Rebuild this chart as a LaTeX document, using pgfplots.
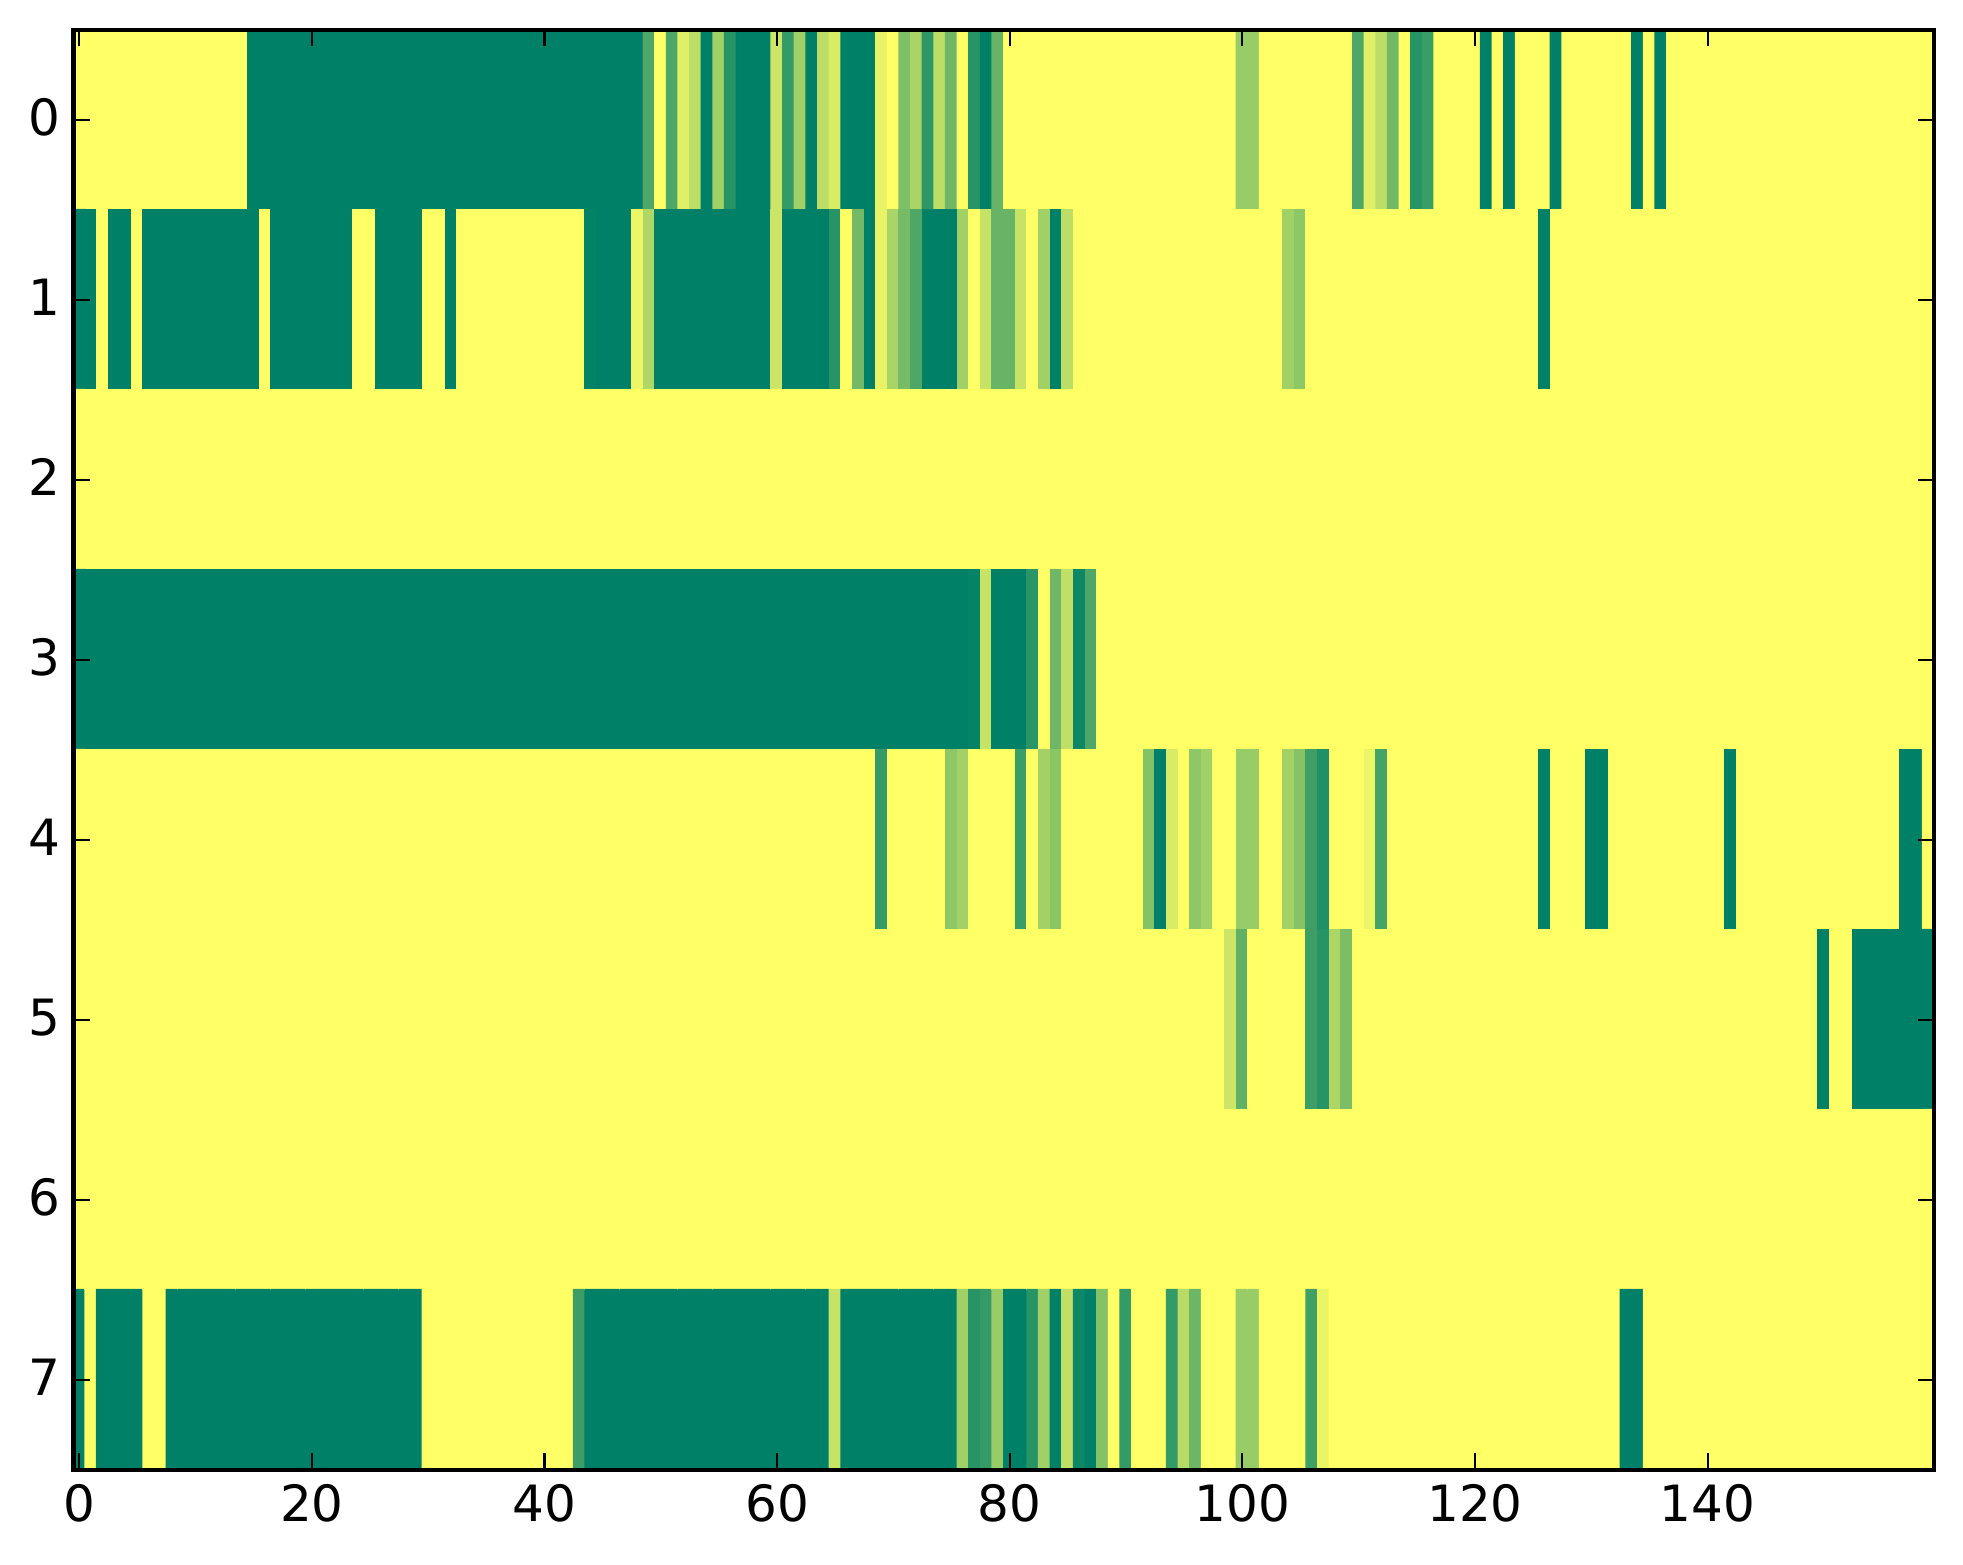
\documentclass[border=0pt]{standalone}
\usepackage{fontspec}
\setmainfont{DejaVu Sans}
\usepackage{pgfplots}
\pgfplotsset{compat=1.18}
\begin{document}
\begin{tikzpicture}[x=1pt,y=1pt]
\path[use as bounding box] (0,0) rectangle (471.12pt,375.36pt);
\begin{axis}[
  at={(17.64pt,22.65pt)}, anchor=south west,
  scale only axis, width=446.6pt, height=345.6pt,
  y dir=reverse,
  xmin=-0.5, xmax=159.5, ymin=-0.5, ymax=7.5,
  xtick={0,20,40,60,80,100,120,140},
  ytick={0,1,2,3,4,5,6,7},
  xticklabel pos=lower,
  tick align=inside,
  major tick length=4pt,
  tick style={black, line width=0.5pt},
  axis line style={black, line width=1pt},
  axis on top=true,
  enlargelimits=false,
  point meta min=0, point meta max=100,
  colormap={summerr}{rgb255=(255,255,102) rgb255=(0,128,102)},
  /pgf/number format/assume math mode=true,
  tick label style={font=\fontsize{12}{14}\selectfont},
  yticklabel style={xshift=0.3pt, yshift=0.6pt},
  scaled ticks=false,
]
\addplot[matrix plot*, point meta=explicit, mesh/cols=160]
 table[header=false, row sep=crcr, x expr={mod(\coordindex,160)}, y expr={floor(\coordindex/160)}, meta index=0]{
0\\0\\0\\0\\0\\0\\0\\0\\0\\0\\
0\\0\\0\\0\\0\\100\\100\\100\\100\\100\\
100\\100\\100\\100\\100\\100\\100\\100\\100\\100\\
100\\100\\100\\100\\100\\100\\100\\100\\100\\100\\
100\\100\\100\\100\\100\\100\\100\\100\\100\\69\\
0\\69\\12\\26\\100\\37\\84\\100\\100\\100\\
20\\79\\37\\100\\26\\15\\100\\100\\100\\9\\
0\\50\\33\\81\\26\\56\\0\\84\\100\\59\\
0\\0\\0\\0\\0\\0\\0\\0\\0\\0\\
0\\0\\0\\0\\0\\0\\0\\0\\0\\0\\
40\\40\\0\\0\\0\\0\\0\\0\\0\\0\\
69\\12\\26\\55\\0\\84\\77\\0\\0\\0\\
0\\100\\0\\100\\0\\0\\0\\100\\0\\0\\
0\\0\\0\\0\\100\\0\\100\\0\\0\\0\\
0\\0\\0\\0\\0\\0\\0\\0\\0\\0\\
0\\0\\0\\0\\0\\0\\0\\0\\0\\0\\
100\\100\\0\\100\\100\\0\\100\\100\\100\\100\\
100\\100\\100\\100\\100\\100\\0\\100\\100\\100\\
100\\100\\100\\100\\0\\0\\100\\100\\100\\100\\
0\\0\\100\\0\\0\\0\\0\\0\\0\\0\\
0\\0\\0\\0\\98\\100\\100\\100\\7\\31\\
100\\100\\100\\100\\100\\100\\100\\100\\100\\100\\
20\\100\\100\\100\\100\\84\\0\\54\\100\\9\\
33\\53\\69\\100\\100\\100\\37\\0\\22\\59\\
59\\22\\0\\37\\100\\26\\0\\0\\0\\0\\
0\\0\\0\\0\\0\\0\\0\\0\\0\\0\\
0\\0\\0\\0\\37\\44\\0\\0\\0\\0\\
0\\0\\0\\0\\0\\0\\0\\0\\0\\0\\
0\\0\\0\\0\\0\\0\\100\\0\\0\\0\\
0\\0\\0\\0\\0\\0\\0\\0\\0\\0\\
0\\0\\0\\0\\0\\0\\0\\0\\0\\0\\
0\\0\\0\\0\\0\\0\\0\\0\\0\\0\\
0\\0\\0\\0\\0\\0\\0\\0\\0\\0\\
0\\0\\0\\0\\0\\0\\0\\0\\0\\0\\
0\\0\\0\\0\\0\\0\\0\\0\\0\\0\\
0\\0\\0\\0\\0\\0\\0\\0\\0\\0\\
0\\0\\0\\0\\0\\0\\0\\0\\0\\0\\
0\\0\\0\\0\\0\\0\\0\\0\\0\\0\\
0\\0\\0\\0\\0\\0\\0\\0\\0\\0\\
0\\0\\0\\0\\0\\0\\0\\0\\0\\0\\
0\\0\\0\\0\\0\\0\\0\\0\\0\\0\\
0\\0\\0\\0\\0\\0\\0\\0\\0\\0\\
0\\0\\0\\0\\0\\0\\0\\0\\0\\0\\
0\\0\\0\\0\\0\\0\\0\\0\\0\\0\\
0\\0\\0\\0\\0\\0\\0\\0\\0\\0\\
0\\0\\0\\0\\0\\0\\0\\0\\0\\0\\
0\\0\\0\\0\\0\\0\\0\\0\\0\\0\\
0\\0\\0\\0\\0\\0\\0\\0\\0\\0\\
100\\100\\100\\100\\100\\100\\100\\100\\100\\100\\
100\\100\\100\\100\\100\\100\\100\\100\\100\\100\\
100\\100\\100\\100\\100\\100\\100\\100\\100\\100\\
100\\100\\100\\100\\100\\100\\100\\100\\100\\100\\
100\\100\\100\\100\\100\\100\\100\\100\\100\\100\\
100\\100\\100\\100\\100\\100\\100\\100\\100\\100\\
100\\100\\100\\100\\100\\100\\100\\100\\100\\100\\
100\\100\\100\\100\\100\\100\\100\\97\\22\\100\\
100\\100\\83\\0\\56\\25\\94\\69\\0\\0\\
0\\0\\0\\0\\0\\0\\0\\0\\0\\0\\
0\\0\\0\\0\\0\\0\\0\\0\\0\\0\\
0\\0\\0\\0\\0\\0\\0\\0\\0\\0\\
0\\0\\0\\0\\0\\0\\0\\0\\0\\0\\
0\\0\\0\\0\\0\\0\\0\\0\\0\\0\\
0\\0\\0\\0\\0\\0\\0\\0\\0\\0\\
0\\0\\0\\0\\0\\0\\0\\0\\0\\0\\
0\\0\\0\\0\\0\\0\\0\\0\\0\\0\\
0\\0\\0\\0\\0\\0\\0\\0\\0\\0\\
0\\0\\0\\0\\0\\0\\0\\0\\0\\0\\
0\\0\\0\\0\\0\\0\\0\\0\\0\\0\\
0\\0\\0\\0\\0\\0\\0\\0\\0\\0\\
0\\0\\0\\0\\0\\0\\0\\0\\0\\0\\
0\\0\\0\\0\\0\\0\\0\\0\\0\\79\\
0\\0\\0\\0\\0\\44\\36\\0\\0\\0\\
0\\77\\0\\36\\45\\0\\0\\0\\0\\0\\
0\\0\\48\\100\\15\\0\\44\\37\\0\\0\\
40\\40\\0\\0\\36\\47\\75\\87\\0\\0\\
0\\7\\72\\0\\0\\0\\0\\0\\0\\0\\
0\\0\\0\\0\\0\\0\\100\\0\\0\\0\\
100\\100\\0\\0\\0\\0\\0\\0\\0\\0\\
0\\0\\100\\0\\0\\0\\0\\0\\0\\0\\
0\\0\\0\\0\\0\\0\\0\\100\\100\\0\\
0\\0\\0\\0\\0\\0\\0\\0\\0\\0\\
0\\0\\0\\0\\0\\0\\0\\0\\0\\0\\
0\\0\\0\\0\\0\\0\\0\\0\\0\\0\\
0\\0\\0\\0\\0\\0\\0\\0\\0\\0\\
0\\0\\0\\0\\0\\0\\0\\0\\0\\0\\
0\\0\\0\\0\\0\\0\\0\\0\\0\\0\\
0\\0\\0\\0\\0\\0\\0\\0\\0\\0\\
0\\0\\0\\0\\0\\0\\0\\0\\0\\0\\
0\\0\\0\\0\\0\\0\\0\\0\\0\\0\\
0\\0\\0\\0\\0\\0\\0\\0\\0\\20\\
62\\0\\0\\0\\0\\0\\75\\84\\32\\51\\
0\\0\\0\\0\\0\\0\\0\\0\\0\\0\\
0\\0\\0\\0\\0\\0\\0\\0\\0\\0\\
0\\0\\0\\0\\0\\0\\0\\0\\0\\0\\
0\\0\\0\\0\\0\\0\\0\\0\\0\\0\\
100\\0\\0\\100\\100\\100\\100\\100\\100\\100\\
0\\0\\0\\0\\0\\0\\0\\0\\0\\0\\
0\\0\\0\\0\\0\\0\\0\\0\\0\\0\\
0\\0\\0\\0\\0\\0\\0\\0\\0\\0\\
0\\0\\0\\0\\0\\0\\0\\0\\0\\0\\
0\\0\\0\\0\\0\\0\\0\\0\\0\\0\\
0\\0\\0\\0\\0\\0\\0\\0\\0\\0\\
0\\0\\0\\0\\0\\0\\0\\0\\0\\0\\
0\\0\\0\\0\\0\\0\\0\\0\\0\\0\\
0\\0\\0\\0\\0\\0\\0\\0\\0\\0\\
0\\0\\0\\0\\0\\0\\0\\0\\0\\0\\
0\\0\\0\\0\\0\\0\\0\\0\\0\\0\\
0\\0\\0\\0\\0\\0\\0\\0\\0\\0\\
0\\0\\0\\0\\0\\0\\0\\0\\0\\0\\
0\\0\\0\\0\\0\\0\\0\\0\\0\\0\\
0\\0\\0\\0\\0\\0\\0\\0\\0\\0\\
0\\0\\0\\0\\0\\0\\0\\0\\0\\0\\
100\\0\\100\\100\\100\\100\\0\\0\\100\\100\\
100\\100\\100\\100\\100\\100\\100\\100\\100\\100\\
100\\100\\100\\100\\100\\100\\100\\100\\100\\100\\
0\\0\\0\\0\\0\\0\\0\\0\\0\\0\\
0\\0\\0\\76\\100\\100\\100\\100\\100\\100\\
100\\100\\100\\100\\100\\100\\100\\100\\100\\100\\
100\\100\\100\\100\\100\\22\\100\\100\\100\\100\\
100\\100\\100\\100\\100\\100\\37\\84\\79\\40\\
100\\100\\84\\37\\100\\25\\94\\100\\48\\0\\
79\\0\\0\\0\\79\\28\\57\\0\\0\\0\\
40\\40\\0\\0\\0\\0\\74\\8\\0\\0\\
0\\0\\0\\0\\0\\0\\0\\0\\0\\0\\
0\\0\\0\\0\\0\\0\\0\\0\\0\\0\\
0\\0\\0\\100\\100\\0\\0\\0\\0\\0\\
0\\0\\0\\0\\0\\0\\0\\0\\0\\0\\
0\\0\\0\\0\\0\\0\\0\\0\\0\\0\\
};
\end{axis}
\end{tikzpicture}
\end{document}
